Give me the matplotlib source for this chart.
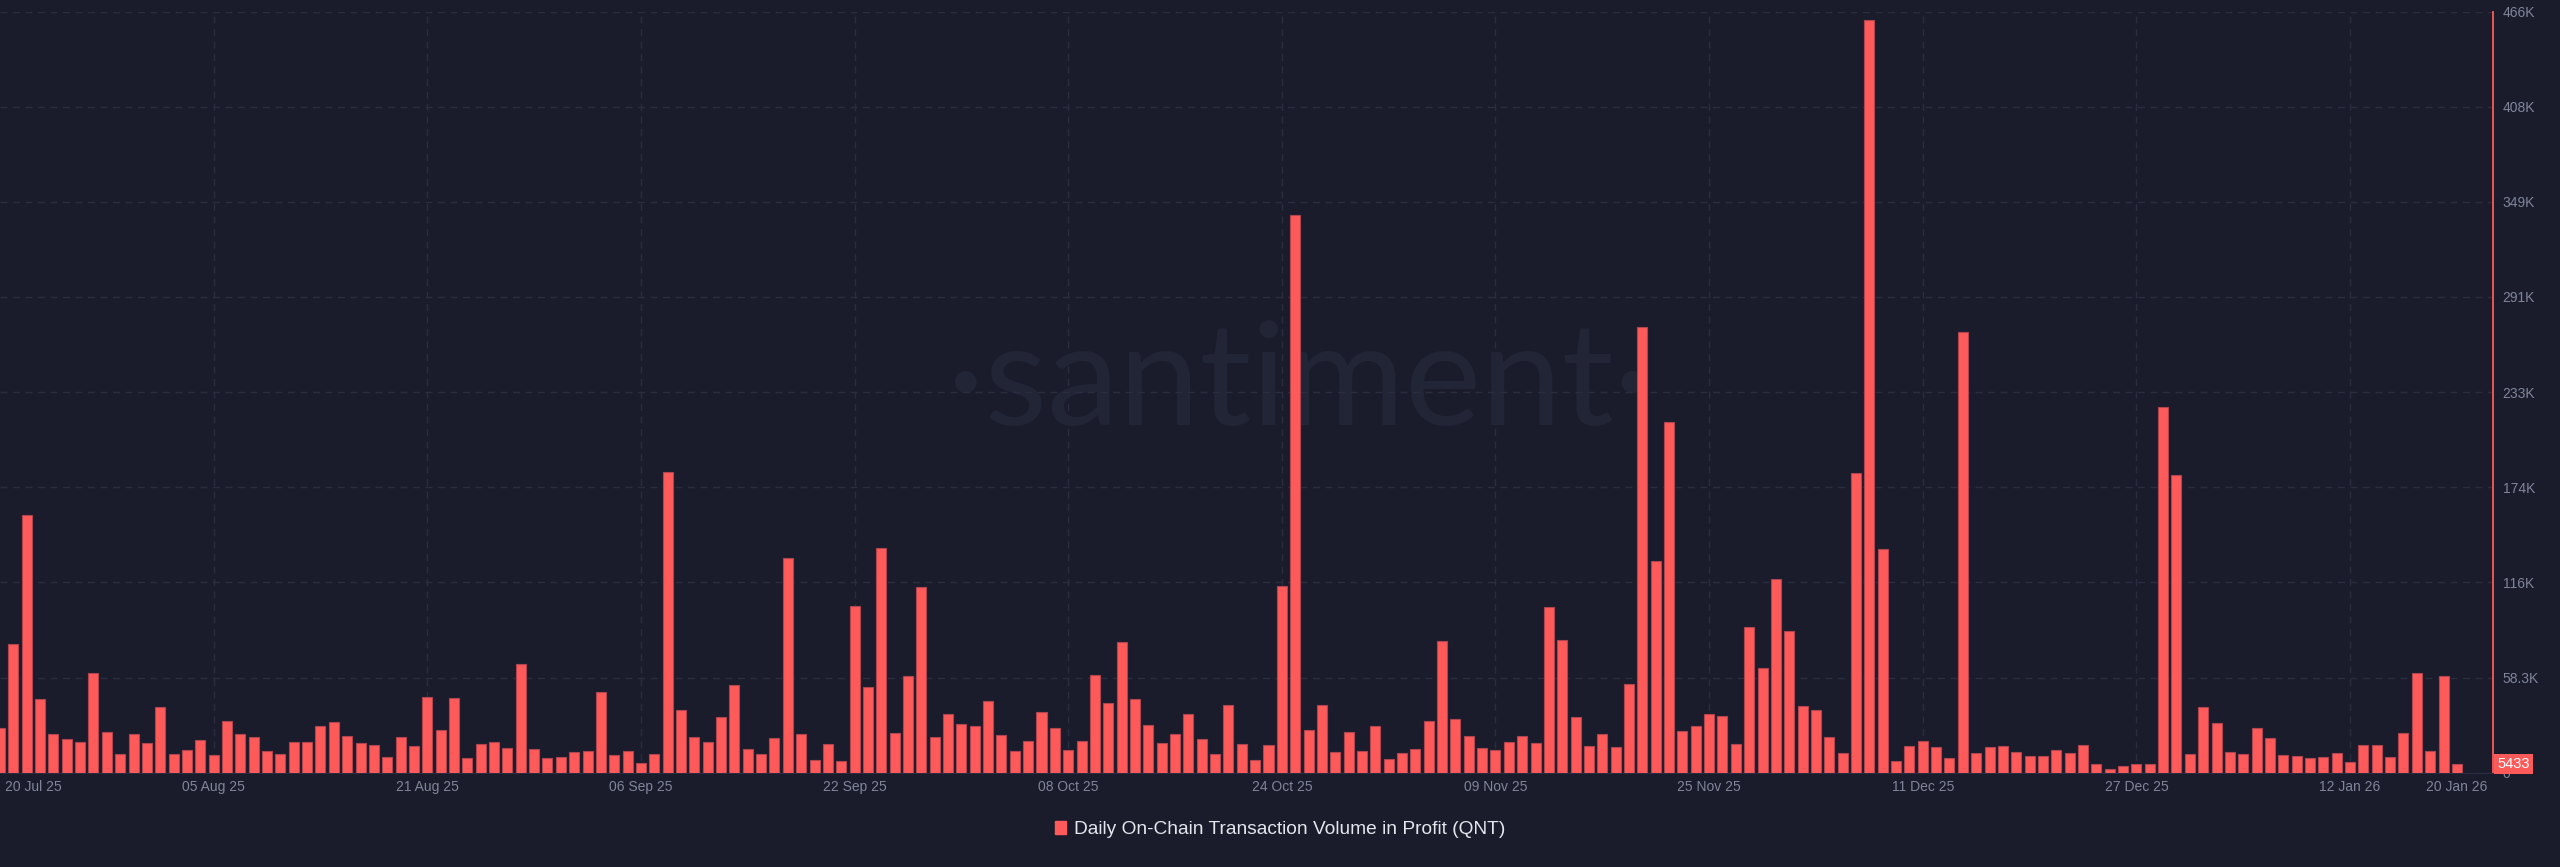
import matplotlib
matplotlib.use('Agg')
import matplotlib.pyplot as plt
import matplotlib.dates as mdates
import matplotlib.transforms as mtransforms
from matplotlib.patches import Patch
import numpy as np
import pandas as pd

# daily values, thousands of QNT, 20 Jul 25 .. 20 Jan 26
volume_k = [
    27.6, 78.8, 157.6, 44.9, 23.5, 20.6, 18.6, 60.9, 25.1, 11.2,
    23.5, 18.0, 40.4, 11.6, 13.9, 20.2, 10.6, 31.7, 23.9, 21.6,
    13.5, 11.2, 19.0, 19.0, 28.8, 31.2, 22.7, 18.0, 17.2, 9.4,
    21.6, 16.5, 46.4, 25.9, 45.9, 8.8, 17.8, 19.0, 15.3, 66.4,
    14.5, 8.8, 9.6, 12.9, 13.5, 49.2, 10.6, 13.5, 6.1, 11.4,
    184.0, 38.2, 21.9, 18.8, 34.3, 53.5, 14.3, 11.4, 21.0, 131.7,
    23.5, 7.8, 17.8, 7.1, 102.1, 52.3, 137.4, 24.3, 59.0, 113.7,
    21.9, 35.7, 30.0, 28.8, 43.7, 23.1, 13.1, 19.4, 37.4, 27.2,
    13.7, 19.6, 59.8, 42.7, 79.8, 44.9, 29.4, 18.4, 23.7, 35.9,
    20.4, 11.2, 41.7, 17.4, 8.0, 16.7, 114.6, 342.0, 25.9, 41.5,
    12.7, 24.7, 13.5, 28.4, 8.6, 11.8, 14.5, 31.7, 80.5, 32.7,
    22.3, 15.3, 13.9, 18.8, 22.3, 18.4, 101.3, 81.5, 34.1, 16.1,
    23.9, 15.9, 54.1, 273.0, 129.5, 215.0, 25.3, 28.4, 35.7, 34.9,
    17.8, 89.4, 64.3, 118.8, 87.0, 40.6, 38.6, 21.6, 11.8, 183.4,
    461.0, 137.2, 7.1, 16.5, 19.6, 15.5, 9.2, 270.0, 11.8, 15.5,
    16.1, 12.5, 10.0, 10.0, 13.9, 12.3, 17.2, 5.5, 2.2, 3.9,
    5.1, 5.1, 224.0, 182.1, 11.6, 40.2, 30.2, 12.9, 11.2, 27.2,
    21.4, 11.0, 10.4, 9.2, 9.6, 12.3, 6.5, 17.2, 16.7, 9.6,
    24.1, 60.9, 13.1, 59.0, 5.433,
]
dates = pd.date_range('2025-07-20', '2026-01-20', freq='D')
tick_dates = pd.to_datetime(['2025-07-20', '2025-08-05', '2025-08-21', '2025-09-06',
                             '2025-09-22', '2025-10-08', '2025-10-24', '2025-11-09',
                             '2025-11-25', '2025-12-11', '2025-12-27', '2026-01-12',
                             '2026-01-20'])
ytick_values = [0, 58300, 116600, 174900, 233200, 291500, 349800, 408100, 466400]
ytick_labels = ['0', '58.3K', '116K', '174K', '233K', '291K', '349K', '408K', '466K']
last_value = 5433
series_name = 'Daily On-Chain Transaction Volume in Profit (QNT)'

bg = '#1a1c2c'
red = '#ff5a5a'
grid_c = '#2a2d3f'
tick_c = '#80859a'

plt.rcParams['font.family'] = ['Liberation Sans', 'DejaVu Sans']

fig = plt.figure(figsize=(25.6, 8.67), dpi=100, facecolor=bg)
ax = fig.add_axes([0, 0.1088, 0.9738, 0.8779])
ax.set_facecolor(bg)

x = mdates.date2num(dates)
ax.bar(x, np.array(volume_k) * 1000, width=0.75, color=red,
       edgecolor='#b04550', linewidth=0.8, zorder=3)
ax.set_xlim(x[0], x[0] + 186.7)
ax.set_ylim(0, ytick_values[-1])

# watermark
ax.text(0.521, 0.51, '·santiment·', transform=ax.transAxes, ha='center', va='center',
        fontsize=104, color='#222536', family='Lato', zorder=1)

# grid
ax.grid(axis='y', color=grid_c, linestyle=(0, (5, 4)), linewidth=1, zorder=0)
tx = mdates.date2num(tick_dates)
for t in tx[1:-1]:
    ax.axvline(t, color=grid_c, linestyle=(0, (5, 4)), linewidth=1, zorder=0)

for s in ['top', 'left']:
    ax.spines[s].set_visible(False)
ax.spines['bottom'].set_color(grid_c)
ax.spines['right'].set_color(red)
ax.spines['right'].set_linewidth(1.3)

ax.yaxis.tick_right()
ax.set_yticks(ytick_values)
ax.set_yticklabels(ytick_labels)
ax.tick_params(axis='y', length=0, pad=7, labelsize=10, labelcolor=tick_c)

ax.set_xticks(tx)
ax.set_xticklabels([d.strftime('%d %b %y') for d in tick_dates])
ax.tick_params(axis='x', length=0, pad=5, labelsize=10, labelcolor=tick_c)
first = ax.get_xticklabels()[0]
first.set_ha('left')
first.set_transform(first.get_transform() +
                    mtransforms.ScaledTranslation(5 / 100, 0, fig.dpi_scale_trans))

# last value badge
ax.annotate(str(last_value), xy=(1, last_value), xycoords=('axes fraction', 'data'),
            xytext=(3, 0), textcoords='offset points', ha='left', va='center',
            color='white', fontsize=10.5,
            bbox=dict(boxstyle='square,pad=0.2', fc=red, ec='none'),
            annotation_clip=False, zorder=6)

fig.legend(handles=[Patch(facecolor=red, edgecolor=red)], labels=[series_name],
           loc='center', bbox_to_anchor=(0.5, 0.043), frameon=False, fontsize=13.8,
           labelcolor='#e4e6ee', handlelength=0.6, handleheight=0.6, handletextpad=0.4)

fig.savefig('out.png', dpi=100, facecolor=bg)
